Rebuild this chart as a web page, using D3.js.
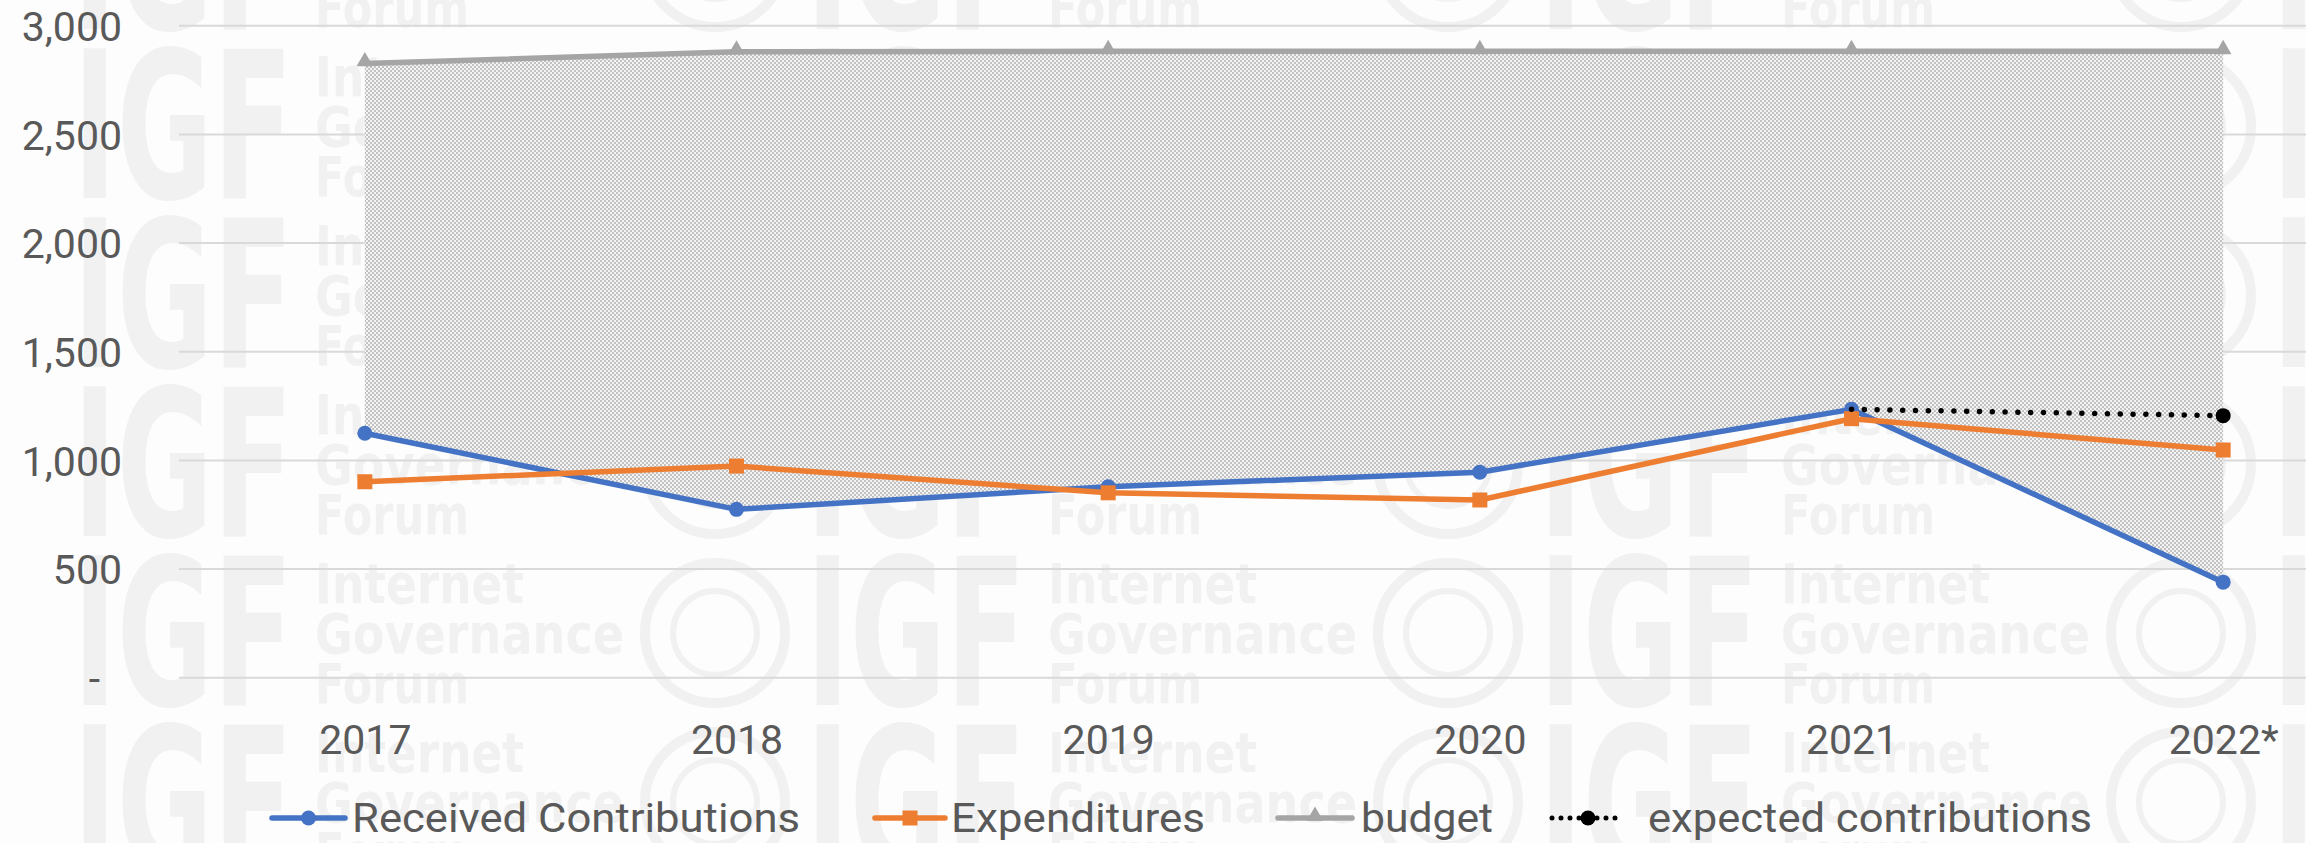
<!DOCTYPE html>
<html>
<head>
<meta charset="utf-8">
<script src="https://cdn.jsdelivr.net/npm/d3@7"></script>
<style>
  body { margin: 0; background: #fdfdfd; }
  svg { display: block; font-family: Roboto, "Open Sans", sans-serif; }
</style>
</head>
<body>
<script>
const years = ["2017", "2018", "2019", "2020", "2021", "2022*"];
const received = [1125, 775, 879, 946, 1235, 440];
const expenditures = [902, 974, 851, 818, 1192, 1048];
const budget = [2826, 2880, 2882, 2882, 2882, 2882];
const expected = [null, null, null, null, 1235, 1206];
const yTicks = [0, 500, 1000, 1500, 2000, 2500, 3000];

const width = 2306, height = 843;
const textColor = "#595959";

const svg = d3.select("body").append("svg")
  .attr("width", width)
  .attr("height", height);

// checker pattern for the band between budget and received
const defs = svg.append("defs");
const pat = defs.append("pattern")
  .attr("id", "dots")
  .attr("patternUnits", "userSpaceOnUse")
  .attr("width", 4).attr("height", 4);
pat.append("rect").attr("width", 4).attr("height", 4).attr("fill", "#f4f4f4");
pat.append("rect").attr("width", 2).attr("height", 2).attr("fill", "#c2c2c2");
pat.append("rect").attr("x", 2).attr("y", 2).attr("width", 2).attr("height", 2).attr("fill", "#c2c2c2");

// faint IGF watermark in the background
const wm = svg.append("g").attr("fill", "#f1f1f1").attr("font-family", "'DejaVu Sans', sans-serif").attr("font-weight", "bold");
for (let ty = -121; ty < height; ty += 169) {
  for (let tx = 73; tx < width; tx += 733) {
    wm.append("text").attr("x", tx).attr("y", ty + 150)
      .attr("font-size", 205).attr("textLength", 220).attr("lengthAdjust", "spacingAndGlyphs")
      .text("IGF");
    [["Internet", 209], ["Governance", 309], ["Forum", 154]].forEach(([w, len], i) => {
      wm.append("text").attr("x", tx + 242).attr("y", ty + 48 + i * 50)
        .attr("font-size", 56).attr("textLength", len).attr("lengthAdjust", "spacingAndGlyphs")
        .text(w);
    });
    wm.append("circle").attr("cx", tx + 642).attr("cy", ty + 78).attr("r", 70)
      .attr("fill", "none").attr("stroke", "#f1f1f1").attr("stroke-width", 10);
    wm.append("circle").attr("cx", tx + 642).attr("cy", ty + 78).attr("r", 42)
      .attr("fill", "none").attr("stroke", "#f1f1f1").attr("stroke-width", 6);
  }
}

const x = d3.scalePoint()
  .domain(years)
  .range([179, 2409])
  .padding(0.5);

const y = d3.scaleLinear()
  .domain([0, 3000])
  .range([677.8, 25.7]);

const rows = years.map((yr, i) => ({
  year: yr,
  received: received[i],
  expenditures: expenditures[i],
  budget: budget[i],
  expected: expected[i]
}));

// gridlines
svg.append("g")
  .selectAll("line")
  .data(yTicks)
  .join("line")
  .attr("x1", 179).attr("x2", 2409)
  .attr("y1", d => y(d)).attr("y2", d => y(d))
  .attr("stroke", "#d9d9d9")
  .attr("stroke-width", 2);

// shaded band
const band = d3.area()
  .x(d => x(d.year))
  .y0(d => y(d.received))
  .y1(d => y(d.budget));

svg.append("path")
  .datum(rows)
  .attr("d", band)
  .attr("fill", "url(#dots)");

// y axis
const yAxis = svg.append("g")
  .attr("transform", "translate(122,0)")
  .call(d3.axisLeft(y).tickValues(yTicks).tickSize(0).tickPadding(0)
    .tickFormat(d => d === 0 ? "-" : d3.format(",")(d)));
yAxis.select(".domain").remove();
yAxis.selectAll("text")
  .attr("fill", textColor)
  .attr("font-size", 41)
  .attr("font-family", "Roboto, sans-serif")
  .attr("dy", "0.36em")
  .attr("x", d => d === 0 ? -22 : 0);

// x axis
const xAxis = svg.append("g")
  .attr("transform", "translate(0,754)")
  .call(d3.axisBottom(x).tickSize(0).tickPadding(0));
xAxis.select(".domain").remove();
xAxis.selectAll("text")
  .attr("fill", textColor)
  .attr("font-size", 41)
  .attr("font-family", "Roboto, sans-serif")
  .attr("y", 0)
  .attr("dy", null);

const lineOf = key => d3.line()
  .defined(d => d[key] != null)
  .x(d => x(d.year))
  .y(d => y(d[key]));

const triangle = d3.symbol().type(d3.symbolTriangle).size(120);

// received contributions
svg.append("path").datum(rows)
  .attr("d", lineOf("received"))
  .attr("fill", "none").attr("stroke", "#4472c4").attr("stroke-width", 5.5)
  .attr("stroke-linejoin", "round");
svg.append("g").selectAll("circle").data(rows).join("circle")
  .attr("cx", d => x(d.year)).attr("cy", d => y(d.received))
  .attr("r", 7.5).attr("fill", "#4472c4");

// expenditures
svg.append("path").datum(rows)
  .attr("d", lineOf("expenditures"))
  .attr("fill", "none").attr("stroke", "#ed7d31").attr("stroke-width", 5.5)
  .attr("stroke-linejoin", "round");
svg.append("g").selectAll("rect").data(rows).join("rect")
  .attr("x", d => x(d.year) - 7.5).attr("y", d => y(d.expenditures) - 7.5)
  .attr("width", 15).attr("height", 15).attr("fill", "#ed7d31");

// budget
svg.append("path").datum(rows)
  .attr("d", lineOf("budget"))
  .attr("fill", "none").attr("stroke", "#a5a5a5").attr("stroke-width", 5.5)
  .attr("stroke-linejoin", "round");
svg.append("g").selectAll("path").data(rows).join("path")
  .attr("d", triangle)
  .attr("transform", d => `translate(${x(d.year)},${y(d.budget) - 2})`)
  .attr("fill", "#a5a5a5");

// expected contributions
svg.append("path").datum(rows)
  .attr("d", lineOf("expected"))
  .attr("fill", "none").attr("stroke", "#000").attr("stroke-width", 5.5)
  .attr("stroke-linecap", "round").attr("stroke-dasharray", "0 12.8");
svg.append("g").selectAll("circle")
  .data(rows.filter((d, i) => d.expected != null && i === rows.length - 1))
  .join("circle")
  .attr("cx", d => x(d.year)).attr("cy", d => y(d.expected))
  .attr("r", 7.5).attr("fill", "#000");

// legend
const legendY = 818;
const legendItems = [
  { name: "Received Contributions", color: "#4472c4", kind: "circle", x0: 272, x1: 345, tx: 352, len: 448 },
  { name: "Expenditures", color: "#ed7d31", kind: "square", x0: 875, x1: 945, tx: 951, len: 254 },
  { name: "budget", color: "#a5a5a5", kind: "triangle", x0: 1278, x1: 1352, tx: 1361, len: 132 },
  { name: "expected contributions", color: "#000", kind: "dots", x0: 1552, x1: 1624, tx: 1648, len: 444 }
];

const leg = svg.append("g");
legendItems.forEach(it => {
  const g = leg.append("g");
  const line = g.append("line")
    .attr("x1", it.x0).attr("x2", it.x1)
    .attr("y1", legendY).attr("y2", legendY)
    .attr("stroke", it.color).attr("stroke-width", 5.5)
    .attr("stroke-linecap", "round");
  if (it.kind === "dots") line.attr("stroke-dasharray", "0 9").attr("stroke-width", 5);
  const cx = (it.x0 + it.x1) / 2;
  if (it.kind === "circle" || it.kind === "dots") {
    g.append("circle").attr("cx", cx).attr("cy", legendY).attr("r", 7.5).attr("fill", it.color);
  } else if (it.kind === "square") {
    g.append("rect").attr("x", cx - 7.5).attr("y", legendY - 7.5).attr("width", 15).attr("height", 15).attr("fill", it.color);
  } else {
    g.append("path").attr("d", triangle).attr("transform", `translate(${cx},${legendY - 2})`).attr("fill", it.color);
  }
  g.append("text")
    .attr("x", it.tx).attr("y", legendY + 14)
    .attr("fill", textColor)
    .attr("font-size", 41)
    .attr("textLength", it.len)
    .attr("lengthAdjust", "spacingAndGlyphs")
    .text(it.name);
});
</script>
</body>
</html>
